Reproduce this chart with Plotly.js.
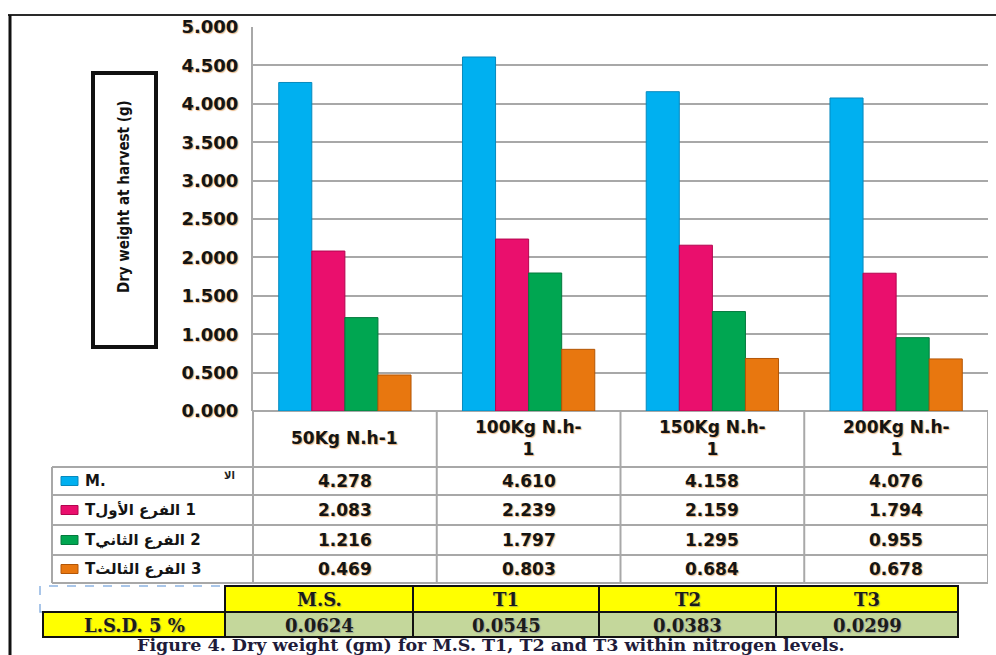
<!DOCTYPE html>
<html>
<head>
<meta charset="utf-8">
<script src="https://cdn.plot.ly/plotly-3.0.1.min.js"></script>
<style>
  html, body { margin: 0; padding: 0; background: #ffffff; }
  #chart { width: 996px; height: 655px; }
</style>
</head>
<body>
<div id="chart"></div>
<script>
// Nitrogen levels (categories) and the drawn column labels
const categories = ["50Kg N.h-1", "100Kg N.h-1", "150Kg N.h-1", "200Kg N.h-1"];
const categoryLabels = ["50Kg N.h-1", "100Kg N.h-<br>1", "150Kg N.h-<br>1", "200Kg N.h-<br>1"];

// Dry weight at harvest (g) per plant part
const seriesNames = ["M.S.", "T1", "T2", "T3"];
const msValues = [4.278, 4.610, 4.158, 4.076];
const t1Values = [2.083, 2.239, 2.159, 1.794];
const t2Values = [1.216, 1.797, 1.295, 0.955];
const t3Values = [0.469, 0.803, 0.684, 0.678];

// Row labels of the data table
const rowLabels = [
  "M.",
  "T\u200Eالفرع الأول\u200E 1",
  "T\u200Eالفرع الثاني\u200E 2",
  "T\u200Eالفرع الثالث\u200E 3"
];

// L.S.D. table
const lsdTitle = "L.S.D. 5 %";
const lsdHeaders = ["M.S.", "T1", "T2", "T3"];
const lsdValues = ["0.0624", "0.0545", "0.0383", "0.0299"];

const yTitle = "Dry weight at harvest (g)";
const caption = "Figure 4. Dry weight (gm) for M.S. T1, T2 and T3 within nitrogen levels.";

// ---- geometry helpers (pixel -> paper) ----
const W = 996, H = 655;
const px = v => v / W;
const py = v => 1 - v / H;

const colors = ["#00b0f0", "#ea0f6d", "#00a651", "#e8770f"];
const edges  = ["#0789bd", "#b3054f", "#04793d", "#b35606"];
const glow = "1px 1px 1px rgba(214,120,30,0.55)";
const numFont = { family: "DejaVu Sans, Liberation Sans, sans-serif", size: 17, weight: "bold", color: "#141414", shadow: glow };
const serifFont = { family: "DejaVu Serif, Liberation Serif, serif", size: 18, weight: "bold", color: "#1b1b1b", shadow: "1px 1px 1px rgba(90,90,140,0.45)" };

const allSeries = [msValues, t1Values, t2Values, t3Values];

const traces = allSeries.map((vals, i) => ({
  type: "bar",
  name: seriesNames[i],
  x: categories,
  y: vals,
  marker: { color: colors[i], line: { color: edges[i], width: 1 } },
  hovertemplate: "%{x}<br>" + seriesNames[i] + ": %{y:.3f}<extra></extra>"
}));

const gridGray = "#a8a8a8";
const shapes = [];
const annotations = [];

// centred text helper
function label(props) {
  return Object.assign({ showarrow: false, xanchor: "center", yanchor: "middle" }, props);
}

// outer frame lines
shapes.push({ type: "line", xref: "paper", yref: "paper", x0: px(8), x1: px(996), y0: py(15), y1: py(15), line: { color: "#2a2a2a", width: 2 } });
shapes.push({ type: "line", xref: "paper", yref: "paper", x0: px(10), x1: px(10), y0: py(15), y1: py(655), line: { color: "#111", width: 3 } });

// boxed axis title
shapes.push({ type: "rect", xref: "paper", yref: "paper", x0: px(93), x1: px(156), y0: py(347), y1: py(73), line: { color: "#111", width: 4 }, fillcolor: "#fff" });
annotations.push(label({ xref: "paper", yref: "paper", x: px(124), y: py(197), text: yTitle, textangle: -90,
  font: { family: "Liberation Sans Narrow, DejaVu Sans Condensed, sans-serif", size: 15, weight: "bold", color: "#111" } }));

// data table under the plot
const rowEdges = [467, 495, 525, 555, 583];
const rowCenters = [481, 510, 540, 569];
rowEdges.forEach(y => shapes.push({ type: "line", xref: "paper", yref: "paper", x0: px(52), x1: px(988), y0: py(y), y1: py(y), line: { color: gridGray, width: 2 } }));
shapes.push({ type: "line", xref: "paper", yref: "paper", x0: px(52), x1: px(52), y0: py(467), y1: py(583), line: { color: gridGray, width: 2 } });
shapes.push({ type: "line", xref: "paper", yref: "paper", x0: px(253), x1: px(253), y0: py(411), y1: py(583), line: { color: gridGray, width: 2 } });
categories.forEach((c, i) => shapes.push({ type: "line", xref: "x", yref: "paper", x0: i + 0.5, x1: i + 0.5, y0: py(411), y1: py(583), line: { color: gridGray, width: 2 } }));

categories.forEach((c, i) => annotations.push(label({ xref: "x", yref: "paper", x: c, y: py(438), text: categoryLabels[i], font: numFont })));

allSeries.forEach((vals, r) => {
  // legend key swatch
  shapes.push({ type: "rect", xref: "paper", yref: "paper", x0: px(61), x1: px(78), y0: py(rowCenters[r] + 4.5), y1: py(rowCenters[r] - 4.5), fillcolor: colors[r], line: { color: edges[r], width: 1 } });
  annotations.push(label({ xref: "paper", yref: "paper", x: px(83), y: py(rowCenters[r]), xanchor: "left", text: rowLabels[r],
    font: { family: "DejaVu Sans, Liberation Sans, sans-serif", size: 15, weight: "bold", color: "#141414" } }));
  vals.forEach((v, c) => annotations.push(label({ xref: "x", yref: "paper", x: categories[c], y: py(rowCenters[r]), text: v.toFixed(3), font: numFont })));
});
annotations.push(label({ xref: "paper", yref: "paper", x: px(237), y: py(475), xanchor: "right", text: "اﻻ",
  font: { family: "DejaVu Sans, sans-serif", size: 10, weight: "bold", color: "#222" } }));

// L.S.D. table
const lsdEdges = [225, 413, 599, 776, 958];
const yellow = "#ffff00", olive = "#c4d79b";
shapes.push({ type: "rect", xref: "paper", yref: "paper", x0: px(40), x1: px(225), y0: py(612), y1: py(586), line: { color: "#8db4e2", width: 1.5, dash: "dash" }, fillcolor: "rgba(0,0,0,0)" });
shapes.push({ type: "rect", xref: "paper", yref: "paper", x0: px(43), x1: px(225), y0: py(637), y1: py(612), line: { color: "#111", width: 2 }, fillcolor: yellow });
annotations.push(label({ xref: "paper", yref: "paper", x: px(134), y: py(625), text: lsdTitle, font: serifFont }));
lsdHeaders.forEach((h, i) => {
  const x0 = lsdEdges[i], x1 = lsdEdges[i + 1];
  shapes.push({ type: "rect", xref: "paper", yref: "paper", x0: px(x0), x1: px(x1), y0: py(612), y1: py(586), line: { color: "#111", width: 2 }, fillcolor: yellow });
  shapes.push({ type: "rect", xref: "paper", yref: "paper", x0: px(x0), x1: px(x1), y0: py(637), y1: py(612), line: { color: "#111", width: 2 }, fillcolor: olive });
  annotations.push(label({ xref: "paper", yref: "paper", x: px((x0 + x1) / 2), y: py(599), text: h, font: serifFont }));
  annotations.push(label({ xref: "paper", yref: "paper", x: px((x0 + x1) / 2), y: py(625), text: lsdValues[i], font: serifFont }));
});

// caption
annotations.push(label({ xref: "paper", yref: "paper", x: px(491), y: py(645), text: caption,
  font: { family: "DejaVu Serif, Liberation Serif, serif", size: 17.5, weight: "bold", color: "#1f1c3a" } }));

const layout = {
  width: W, height: H,
  margin: { l: 0, r: 0, t: 0, b: 0 },
  paper_bgcolor: "#ffffff", plot_bgcolor: "#ffffff",
  showlegend: false,
  barmode: "group", bargap: 0.28, bargroupgap: 0,
  xaxis: { domain: [px(253), px(988)], range: [-0.5, 3.5], showticklabels: false, showgrid: false, zeroline: false, showline: false, fixedrange: true },
  yaxis: {
    domain: [py(411), py(27)], range: [0, 5.0005], dtick: 0.5, tick0: 0, tickformat: ".3f",
    showgrid: true, gridcolor: gridGray, gridwidth: 2,
    zeroline: true, zerolinecolor: gridGray, zerolinewidth: 2,
    showline: true, linecolor: gridGray, linewidth: 2,
    ticks: "", ticklabelstandoff: 9, tickfont: Object.assign({}, numFont, { size: 18 }), fixedrange: true
  },
  shapes: shapes,
  annotations: annotations
};

Plotly.newPlot("chart", traces, layout, { displayModeBar: false, responsive: false });
</script>
</body>
</html>
